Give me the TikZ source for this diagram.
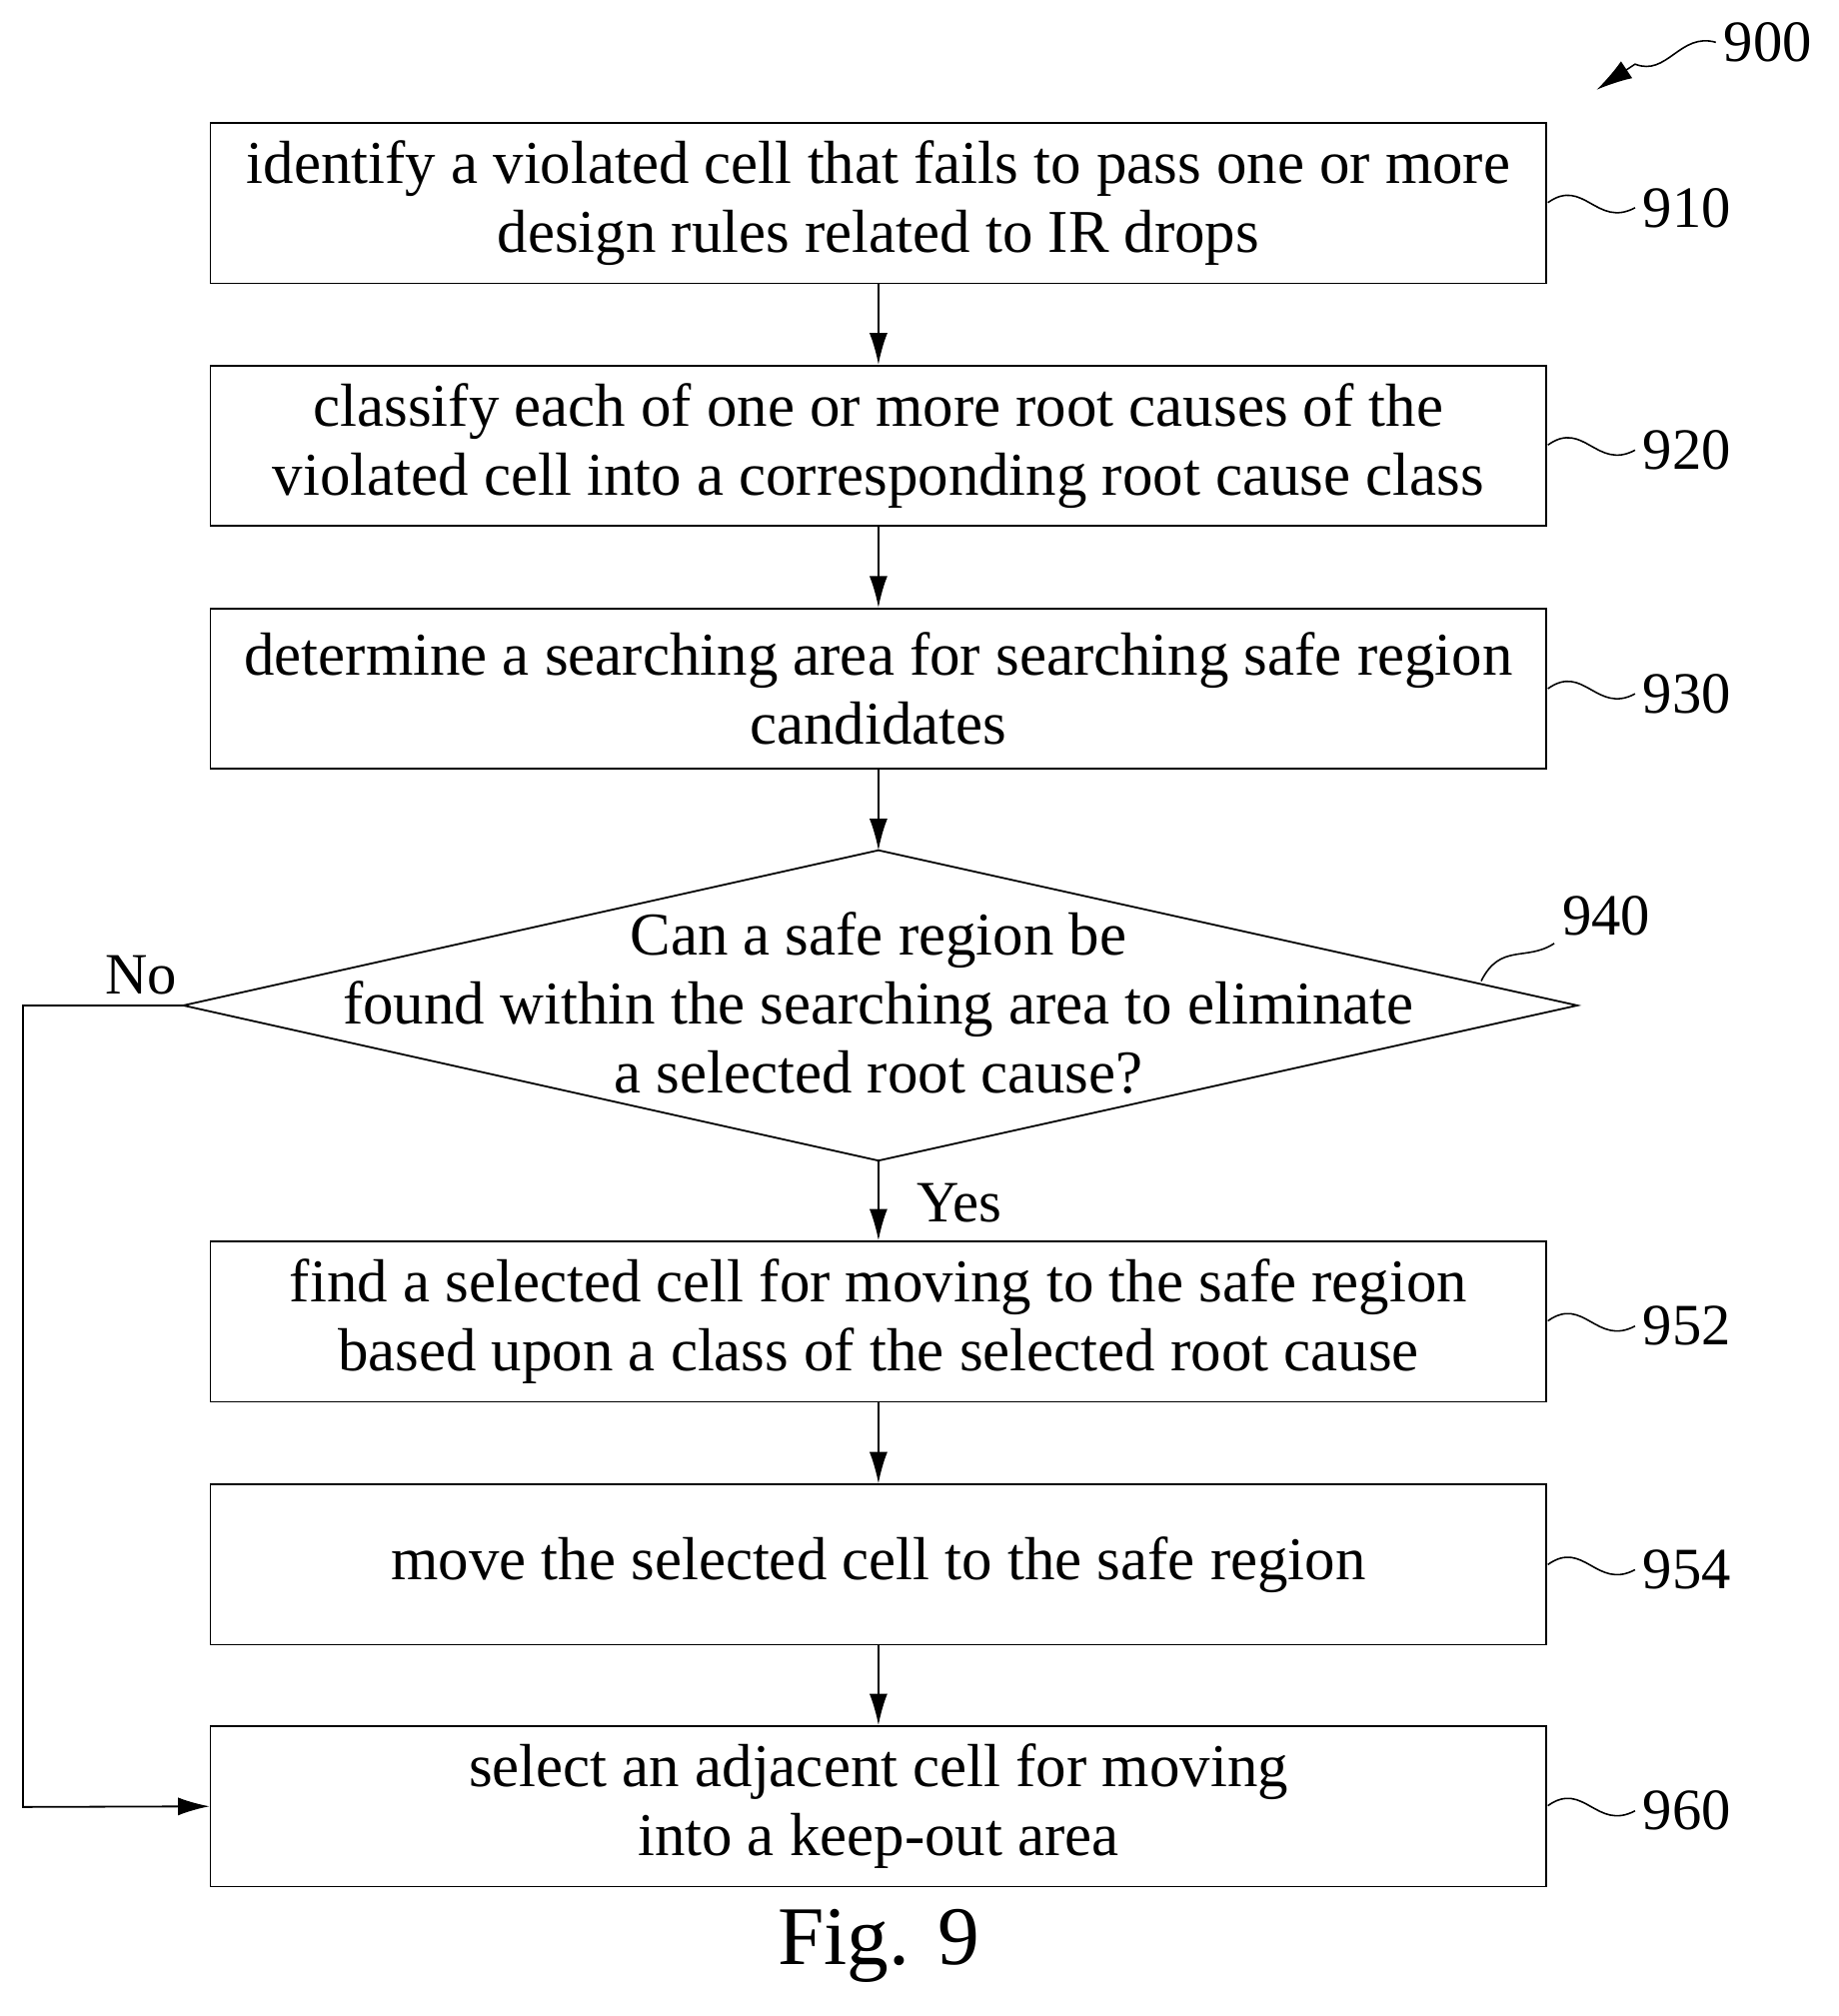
\documentclass[tikz,border=0pt]{standalone}
\usepackage{fontspec}
\setmainfont{Liberation Serif}
\usetikzlibrary{shapes.geometric,arrows.meta}
\begin{document}
\begin{tikzpicture}[x=0.02cm,y=-0.02cm,
  box/.style={draw,line width=0.8pt,minimum width=20.84cm,minimum height=2.5cm,align=center,font=\fontsize{27}{30.6}\selectfont},
  lbl/.style={font=\fontsize{26}{28}\selectfont},
  arr/.style={line width=0.8pt,-{Latex[length=14pt,width=8pt]}},
  sq/.style={line width=0.7pt}]
\useasboundingbox (0,0) rectangle (1434,1572);
\node[box] (b910) at (685,158.5) {identify a violated cell that fails to pass one or more\\design rules related to IR drops};
\node[box] (b920) at (685,347.5) {classify each of one or more root causes of the\\violated cell into a corresponding root cause class};
\node[box] (b930) at (685,537) {determine a searching area for searching safe region\\candidates};
\draw[line width=0.8pt] (685,663) coordinate (dt) -- (1230,784) coordinate (dr) -- (685,905) coordinate (db) -- (143,784) coordinate (dl) -- cycle;
\node[align=center,font=\fontsize{27}{30.6}\selectfont] (d940) at (685,782) {Can a safe region be\\found within the searching area to eliminate\\a selected root cause?};
\node[box] (b952) at (685,1030.5) {find a selected cell for moving to the safe region\\based upon a class of the selected root cause};
\node[box] (b954) at (685,1220) {move the selected cell to the safe region};
\node[box] (b960) at (685,1408.5) {select an adjacent cell for moving\\into a keep-out area};
\draw[arr] (b910) -- (b920);
\draw[arr] (b920) -- (b930);
\draw[arr] (b930) -- (dt);
\draw[arr] (db) -- (b952);
\draw[arr] (b952) -- (b954);
\draw[arr] (b954) -- (b960);
\coordinate (c1) at (18,784);
\coordinate (c2) at (18,1409);
\draw[arr] (dl) -- (c1) -- (c2) -- (b960.west);
\node[lbl] (no) at (110,760) {No};
\node[lbl] (yes) at (748,938) {Yes};
\foreach \n/\y in {910/158,920/347,930/537,952/1030,954/1220,960/1408}{
  \node[lbl,anchor=west] (l\n) at (1275,\y+4) {\n};
  \draw[sq] (1207,\y) .. controls (1235,\y-20) and (1245,\y+20) .. (l\n.west);
}
\node[lbl,anchor=west] (l940) at (1212,714) {940};
\draw[sq] (1155,765) .. controls (1170,735) and (1190,750) .. (l940.south west);
\node[lbl,anchor=west] (l900) at (1338,33) {900};
\coordinate (a900) at (1245,70);
\draw[sq,-{Latex[length=16pt,width=9pt]}] (l900.west) .. controls (1310,25) and (1300,60) .. (1275,50) -- (a900);
\node[font=\fontsize{37}{40}\selectfont] (fig) at (685,1517) {Fig. 9};
\end{tikzpicture}
\end{document}
